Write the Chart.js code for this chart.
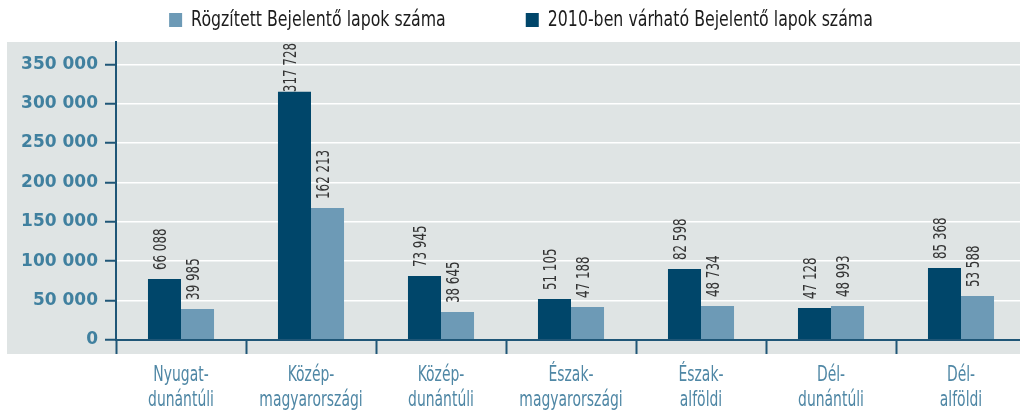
<!DOCTYPE html>
<html>
<head>
<meta charset="utf-8">
<script src="https://cdn.jsdelivr.net/npm/chart.js@4.4.1/dist/chart.umd.min.js"></script>
<style>
  html, body { margin: 0; padding: 0; background: #ffffff; overflow: hidden; }
  #wrap { width: 1026px; height: 410px; }
</style>
</head>
<body>
<div id="wrap"><canvas id="c" width="1026" height="410"></canvas></div>
<script>
// ---- data ----
const categories = [
  ["Nyugat-", "dunántúli"],
  ["Közép-", "magyarországi"],
  ["Közép-", "dunántúli"],
  ["Észak-", "magyarországi"],
  ["Észak-", "alföldi"],
  ["Dél-", "dunántúli"],
  ["Dél-", "alföldi"]
];
const seriesExpectedName = "2010-ben várható Bejelentő lapok száma";
const seriesRecordedName = "Rögzített Bejelentő lapok száma";
const expected2010 = [77400, 315200, 81200, 52000, 90100, 40600, 91400];
const recorded = [39500, 167600, 35500, 41900, 43100, 43100, 55800];
const expected2010Labels = ["66 088", "317 728", "73 945", "51 105", "82 598", "47 128", "85 368"];
const recordedLabels = ["39 985", "162 213", "38 645", "47 188", "48 734", "48 993", "53 588"];
const yTickValues = [0, 50000, 100000, 150000, 200000, 250000, 300000, 350000];

// ---- styling ----
const FONT = '"DejaVu Sans", sans-serif';
const DARK = '#00466a';
const LIGHT = '#6d9ab6';
const AXIS = '#1f5677';

const backgroundPlugin = {
  id: 'bg',
  beforeDraw(chart) {
    const ctx = chart.ctx;
    ctx.save();
    ctx.fillStyle = '#ffffff';
    ctx.fillRect(0, 0, chart.width, chart.height);
    ctx.fillStyle = '#dfe4e4';
    const top = chart.chartArea.top;
    ctx.fillRect(7, top, chart.width - 7, chart.chartArea.bottom + 14 - top);
    ctx.restore();
  }
};

// condensed text: drawn with a horizontal squeeze along the reading direction
const valueLabelPlugin = {
  id: 'valueLabels',
  afterDatasetsDraw(chart) {
    const ctx = chart.ctx;
    const top = chart.chartArea.top;
    const squeeze = 0.66;
    chart.data.datasets.forEach((ds, i) => {
      const meta = chart.getDatasetMeta(i);
      meta.data.forEach((bar, j) => {
        const txt = ds.valueLabels[j];
        ctx.save();
        ctx.font = '18px ' + FONT;
        const w = ctx.measureText(txt).width * squeeze;
        let start = bar.y - 9;
        if (start - w < top + 1) start = top + 1 + w;
        ctx.translate(bar.x - 3, start);
        ctx.rotate(-Math.PI / 2);
        ctx.scale(squeeze, 1);
        ctx.textAlign = 'left';
        ctx.textBaseline = 'middle';
        ctx.fillStyle = '#333333';
        ctx.fillText(txt, 0, 0);
        ctx.restore();
      });
    });
  }
};

const categoryLabelPlugin = {
  id: 'categoryLabels',
  afterDraw(chart) {
    const ctx = chart.ctx;
    const xs = chart.scales.x;
    const squeeze = 0.68;
    ctx.save();
    ctx.font = '20.5px ' + FONT;
    ctx.fillStyle = '#4f87a5';
    ctx.textAlign = 'center';
    ctx.textBaseline = 'alphabetic';
    chart.data.labels.forEach((lines, i) => {
      const x = xs.getPixelForTick(i);
      lines.forEach((line, k) => {
        ctx.save();
        ctx.translate(x, xs.top + 41 + k * 25);
        ctx.scale(squeeze, 1);
        ctx.fillText(line, 0, 0);
        ctx.restore();
      });
    });
    ctx.restore();
  }
};

const legendPlugin = {
  id: 'customLegend',
  afterDraw(chart) {
    const ctx = chart.ctx;
    const items = chart.data.datasets.slice().reverse();
    const squeeze = 0.77;
    ctx.save();
    ctx.font = '20.5px ' + FONT;
    const box = 13, gapText = 9, gapItem = 80;
    const widths = items.map(d => box + gapText + ctx.measureText(d.label).width * squeeze);
    const total = widths.reduce((a, b) => a + b, 0) + gapItem * (items.length - 1);
    let x = 521 - total / 2;
    const cy = 20;
    items.forEach((d, i) => {
      ctx.fillStyle = d.backgroundColor;
      ctx.fillRect(x, cy - 7, box, 14);
      ctx.fillStyle = '#1c1c1c';
      ctx.textAlign = 'left';
      ctx.textBaseline = 'middle';
      ctx.save();
      ctx.translate(x + box + gapText, cy + 1);
      ctx.scale(squeeze, 1);
      ctx.fillText(d.label, 0, 0);
      ctx.restore();
      x += widths[i] + gapItem;
    });
    ctx.restore();
  }
};

const fmt = v => String(v).replace(/\B(?=(\d{3})+(?!\d))/g, ' ');

new Chart(document.getElementById('c'), {
  type: 'bar',
  data: {
    labels: categories,
    datasets: [
      { label: seriesExpectedName, data: expected2010, backgroundColor: DARK, valueLabels: expected2010Labels },
      { label: seriesRecordedName, data: recorded, backgroundColor: LIGHT, valueLabels: recordedLabels }
    ]
  },
  options: {
    responsive: false,
    animation: false,
    devicePixelRatio: 1,
    layout: { padding: { top: 42, left: 0, right: 0, bottom: 0 } },
    datasets: { bar: { barPercentage: 1.0, categoryPercentage: 0.508 } },
    plugins: { legend: { display: false }, tooltip: { enabled: false } },
    scales: {
      x: {
        offset: true,
        grid: {
          offset: true,
          drawOnChartArea: false,
          drawTicks: true,
          tickLength: 14,
          tickWidth: 2,
          tickColor: AXIS
        },
        border: { display: true, color: AXIS, width: 2, z: 1 },
        ticks: { display: false, autoSkip: false },
        afterFit(scale) { scale.height = 70; }
      },
      y: {
        min: 0,
        max: 378300,
        afterBuildTicks(scale) { scale.ticks = yTickValues.map(v => ({ value: v })); },
        grid: {
          color: '#ffffff',
          lineWidth: 1.5,
          drawTicks: true,
          tickLength: 11,
          tickWidth: 2,
          tickColor: AXIS
        },
        border: { display: true, color: AXIS, width: 2, z: 1 },
        ticks: {
          color: '#40809f',
          font: { family: FONT, size: 17, weight: 'bold' },
          padding: 7,
          callback: v => fmt(v)
        },
        afterFit(scale) { scale.width = 116; }
      }
    }
  },
  plugins: [backgroundPlugin, valueLabelPlugin, categoryLabelPlugin, legendPlugin]
});
</script>
</body>
</html>
